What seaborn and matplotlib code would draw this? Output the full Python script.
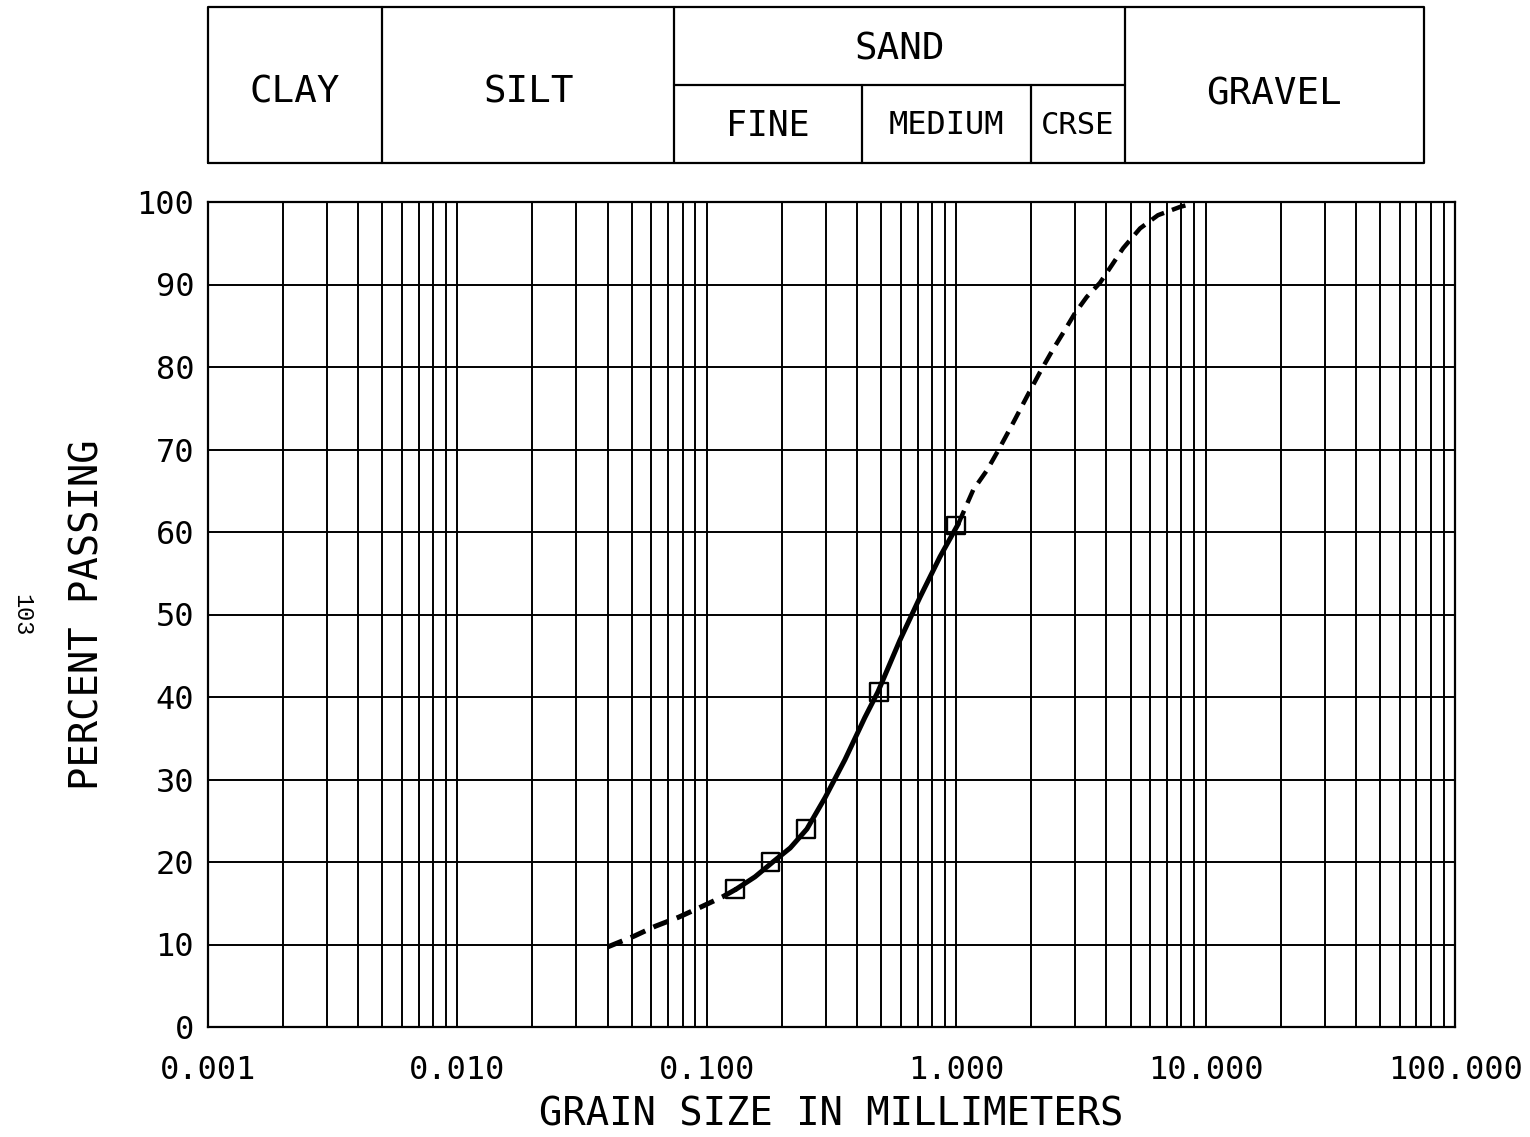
import matplotlib
matplotlib.use("Agg")
import matplotlib.pyplot as plt
import seaborn as sns
from matplotlib.ticker import FixedLocator, FixedFormatter, LogLocator, NullFormatter

# Sieve analysis results (grain size in mm, percent passing)
sieve_mm = [0.13, 0.18, 0.25, 0.49, 1.0]
sieve_pct = [16.7, 20.0, 24.0, 40.6, 60.8]

# Gradation curve fitted through the sieve results
fit_mm = [0.131, 0.156, 0.184, 0.216, 0.252, 0.298, 0.358, 0.430, 0.485,
          0.595, 0.716, 0.861, 1.02]
fit_pct = [16.7, 18.2, 20.0, 21.7, 24.0, 27.8, 32.4, 37.5, 40.6,
           46.9, 52.1, 57.0, 61.0]

# Extrapolated parts of the curve (fine and coarse ends)
fine_tail_mm = [0.040, 0.051, 0.062, 0.077, 0.094, 0.116, 0.131]
fine_tail_pct = [9.7, 11.0, 12.2, 13.3, 14.5, 15.8, 16.7]
coarse_tail_mm = [1.02, 1.17, 1.33, 1.50, 1.69, 1.92, 2.17, 2.44, 2.73, 2.99,
                  3.34, 3.77, 4.22, 4.67, 5.46, 6.44, 7.89, 8.82]
coarse_tail_pct = [61.0, 65.1, 67.5, 70.3, 73.2, 76.4, 79.4, 82.1, 84.5, 86.5,
                   88.5, 90.2, 92.4, 94.4, 96.8, 98.4, 99.4, 99.8]

# Soil classification bands (boundaries in mm)
clay_silt = 0.005
silt_sand = 0.074
fine_medium = 0.42
medium_coarse = 2.0
sand_gravel = 4.75
chart_min = 0.001
chart_max = 75.0

# Axis ticks
x_ticks = [0.001, 0.01, 0.1, 1.0, 10.0, 100.0]
x_tick_labels = ["0.001", "0.010", "0.100", "1.000", "10.000", "100.000"]
y_ticks = list(range(0, 101, 10))

sns.set_style("white")
plt.rcParams["font.family"] = ["DejaVu Sans Mono", "DejaVu Sans"]
plt.rcParams.update({
    "text.color": "black",
    "axes.labelcolor": "black",
    "xtick.color": "black",
    "ytick.color": "black",
})

W, H = 1530, 1137
fig = plt.figure(figsize=(W / 100, H / 100), dpi=100)
fig.patch.set_facecolor("white")

# ---- main gradation chart ----
ax = fig.add_axes([208 / W, 1 - 1027 / H, 1247 / W, 825 / H])
ax.set_xscale("log")
ax.set_xlim(0.001, 100)
ax.set_ylim(0, 100)

ax.xaxis.set_major_locator(FixedLocator(x_ticks))
ax.xaxis.set_major_formatter(FixedFormatter(x_tick_labels))
ax.xaxis.set_minor_locator(LogLocator(base=10, subs=range(2, 10), numticks=50))
ax.xaxis.set_minor_formatter(NullFormatter())
ax.yaxis.set_major_locator(FixedLocator(y_ticks))

ax.grid(True, which="both", axis="x", color="black", lw=1.4)
ax.grid(True, which="major", axis="y", color="black", lw=1.4)
ax.set_axisbelow(True)

for sp in ax.spines.values():
    sp.set_visible(True)
    sp.set_color("black")
    sp.set_linewidth(1.6)

ax.tick_params(axis="both", which="both", length=0)
ax.tick_params(axis="x", labelsize=23, pad=20)
ax.tick_params(axis="y", labelsize=23, pad=10)

sns.lineplot(x=fine_tail_mm, y=fine_tail_pct, ax=ax, color="black", lw=3.6,
             linestyle=(0, (3.2, 1.8)), sort=False, estimator=None, zorder=3)
sns.lineplot(x=fit_mm, y=fit_pct, ax=ax, color="black", lw=3.6,
             sort=False, estimator=None, zorder=3)
sns.lineplot(x=coarse_tail_mm, y=coarse_tail_pct, ax=ax, color="black", lw=3.2,
             linestyle=(0, (3.2, 1.9)), sort=False, estimator=None, zorder=3)
sns.scatterplot(x=sieve_mm, y=sieve_pct, ax=ax, marker="s", s=160,
                edgecolor="black", linewidth=1.7, zorder=4)
ax.collections[-1].set_facecolor("none")
ax.collections[-1].set_edgecolor("black")

ax.set_xlabel("GRAIN SIZE IN MILLIMETERS", fontsize=28)
ax.set_ylabel("PERCENT PASSING", fontsize=28)
ax.xaxis.label.set_va("center")
ax.yaxis.label.set_va("center")
ax.xaxis.set_label_coords(0.5, -(1115 - 1027) / 825)
ax.yaxis.set_label_coords(-(208 - 88) / 1247, 0.5)

# ---- soil classification header ----
tax = fig.add_axes([208 / W, 1 - 163 / H, 1247 / W, 156 / H])
tax.set_xscale("log")
tax.set_xlim(0.001, 100)
tax.set_ylim(0, 1)
tax.axis("off")

line_kw = dict(color="black", lw=1.6, clip_on=False)
tax.plot([chart_min, chart_max, chart_max, chart_min, chart_min],
         [0, 0, 1, 1, 0], **line_kw)
for edge in (clay_silt, silt_sand, sand_gravel):
    tax.plot([edge, edge], [0, 1], **line_kw)
for edge in (fine_medium, medium_coarse):
    tax.plot([edge, edge], [0, 0.5], **line_kw)
tax.plot([silt_sand, sand_gravel], [0.5, 0.5], **line_kw)


def gmid(a, b):
    return (a * b) ** 0.5


txt_kw = dict(ha="center", va="center", color="black")
tax.text(gmid(chart_min, clay_silt), 0.45, "CLAY", fontsize=27, **txt_kw)
tax.text(gmid(clay_silt, silt_sand), 0.45, "SILT", fontsize=27, **txt_kw)
tax.text(gmid(silt_sand, sand_gravel), 0.73, "SAND", fontsize=27, **txt_kw)
tax.text(gmid(silt_sand, fine_medium), 0.24, "FINE", fontsize=25, **txt_kw)
tax.text(gmid(fine_medium, medium_coarse), 0.24, "MEDIUM", fontsize=23, **txt_kw)
tax.text(gmid(medium_coarse, sand_gravel), 0.24, "CRSE", fontsize=22, **txt_kw)
tax.text(gmid(sand_gravel, chart_max), 0.44, "GRAVEL", fontsize=27, **txt_kw)

# page number
fig.text(22 / W, 1 - 615 / H, "103", rotation=-90, fontsize=17,
         family=["Liberation Mono", "DejaVu Sans Mono"],
         ha="center", va="center", color="black")

fig.savefig("out.png", dpi=100, facecolor="white")
